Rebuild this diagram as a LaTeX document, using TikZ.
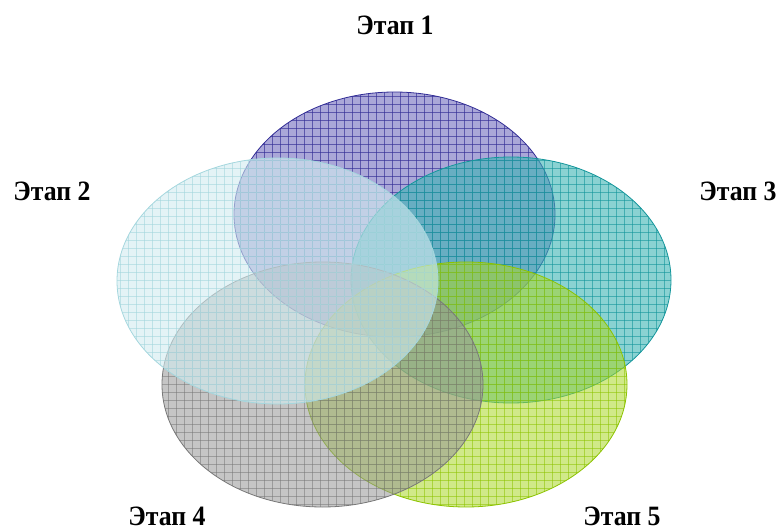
\documentclass[tikz,border=0pt]{standalone}
\usepackage{fontspec}
\setmainfont{Liberation Serif}
\begin{document}
\begin{tikzpicture}[x=1pt,y=-1pt,
  lbl/.style={font=\bfseries\fontsize{28}{30}\selectfont, xscale=0.92, inner sep=0pt}]
\useasboundingbox (0,0) rectangle (780,530);
\definecolor{pfill}{RGB}{125,120,195}\definecolor{pline}{RGB}{50,45,150}
\definecolor{tfill}{RGB}{60,180,180}\definecolor{tline}{RGB}{20,150,155}
\definecolor{lfill}{RGB}{170,215,40}\definecolor{lline}{RGB}{140,195,0}
\definecolor{gfill}{RGB}{150,150,150}\definecolor{gline}{RGB}{120,120,120}
\definecolor{cfill}{RGB}{210,235,240}\definecolor{cline}{RGB}{165,215,222}
\newcommand{\stage}[7]{%
  \begin{scope}
    \fill[#5, opacity=#7] (#1,#2) ellipse [x radius=#3, y radius=#4];
    \begin{scope}
      \clip (#1,#2) ellipse [x radius=#3, y radius=#4];
      \foreach \gx in {0,8,...,784} {\draw[#6, line width=0.6pt, opacity=#7] (\gx,0) -- (\gx,530);}
      \foreach \gy in {0,8,...,528} {\draw[#6, line width=0.6pt, opacity=#7] (0,\gy) -- (780,\gy);}
    \end{scope}
    \draw[#6, line width=0.8pt] (#1,#2) ellipse [x radius=#3, y radius=#4];
  \end{scope}}
\stage{394.5}{214.5}{160.5}{122.5}{pfill}{pline}{0.65}
\stage{511}{280}{160}{123}{tfill}{tline}{0.6}
\stage{466}{384.5}{161}{122.5}{lfill}{lline}{0.55}
\stage{322.5}{384.5}{160.5}{122.5}{gfill}{gline}{0.55}
\stage{277.5}{281}{160.5}{123}{cfill}{cline}{0.6}
\node[lbl] (t1) at (395,25) {Этап 1};
\node[lbl] (t2) at (52,191) {Этап 2};
\node[lbl] (t3) at (738,191) {Этап 3};
\node[lbl] (t4) at (167,516) {Этап 4};
\node[lbl] (t5) at (622,516) {Этап 5};
\end{tikzpicture}
\end{document}
